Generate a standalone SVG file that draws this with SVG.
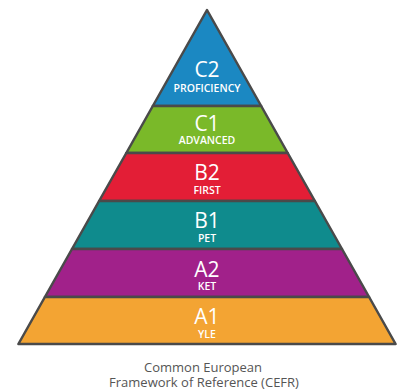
<svg xmlns="http://www.w3.org/2000/svg" width="407" height="391" viewBox="0 0 407 391">
<style>
.band{stroke:#4a4a4a;stroke-width:2.5;stroke-linejoin:round}
.lvl{font-family:"Open Sans","Liberation Sans",sans-serif;font-size:21px;fill:#ffffff;text-anchor:middle}
.sub{font-family:"Open Sans","Liberation Sans",sans-serif;font-size:10.5px;font-weight:600;fill:#ffffff;text-anchor:middle}
.cap{font-family:"Open Sans","Liberation Sans",sans-serif;font-size:13px;fill:#555555;text-anchor:middle}
</style>
<rect width="407" height="391" fill="#ffffff"/>
<g id="c2">
<polygon class="band" fill="#1b88c2" points="207,10 261.2,106 152.8,106"/>
<text class="lvl" x="207" y="77">C2</text>
<text class="sub" x="207" y="92">PROFICIENCY</text>
</g>
<g id="c1">
<polygon class="band" fill="#7ab929" points="152.8,106 261.2,106 287.7,153 126.3,153"/>
<text class="lvl" x="207" y="131">C1</text>
<text class="sub" x="207" y="143.5">ADVANCED</text>
</g>
<g id="b2">
<polygon class="band" fill="#e31e36" points="126.3,153 287.7,153 314.9,201 99.1,201"/>
<text class="lvl" x="207" y="180">B2</text>
<text class="sub" x="207" y="193.5">FIRST</text>
</g>
<g id="b1">
<polygon class="band" fill="#0f8b8d" points="99.1,201 314.9,201 342,249 72,249"/>
<text class="lvl" x="207" y="228">B1</text>
<text class="sub" x="207" y="242">PET</text>
</g>
<g id="a2">
<polygon class="band" fill="#a1218a" points="72,249 342,249 369.1,297 44.9,297"/>
<text class="lvl" x="207" y="277">A2</text>
<text class="sub" x="207" y="290">KET</text>
</g>
<g id="a1">
<polygon class="band" fill="#f3a433" points="44.9,297 369.1,297 395.6,344 18.4,344"/>
<text class="lvl" x="207" y="324">A1</text>
<text class="sub" x="207" y="338">YLE</text>
</g>
<g id="caption">
<text class="cap" x="203" y="372">Common European</text>
<text class="cap" x="204" y="387">Framework of Reference (CEFR)</text>
</g>
</svg>
